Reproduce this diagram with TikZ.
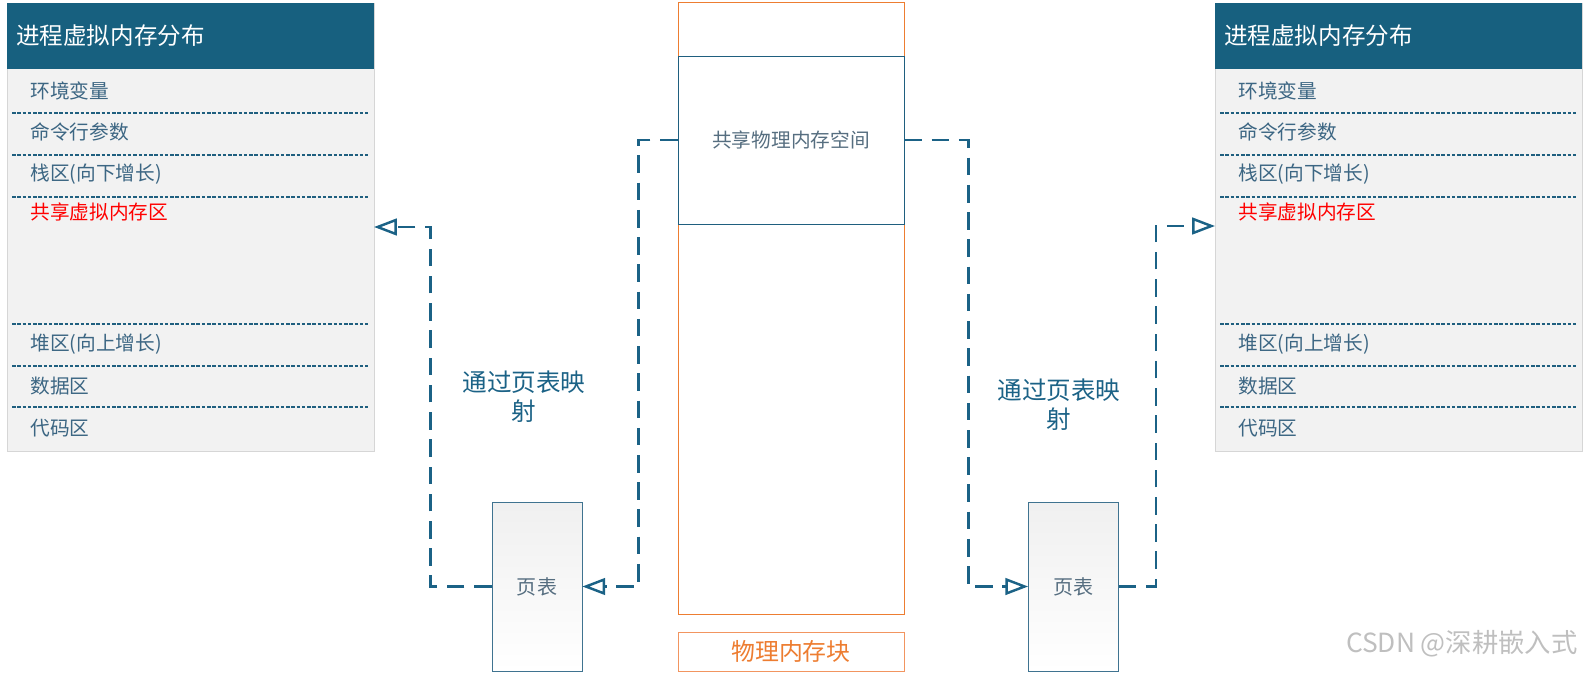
\documentclass[tikz,border=0pt]{standalone}
\usepackage{fontspec}
\setmainfont{Noto Sans CJK SC}
\usepackage{xcolor}
\usetikzlibrary{arrows.meta, positioning, calc}

\definecolor{headblue}{HTML}{17607F}
\definecolor{panelfill}{HTML}{F2F2F2}
\definecolor{panelline}{HTML}{D6D6D6}
\definecolor{sepblue}{HTML}{1F5F7F}
\definecolor{rowblue}{HTML}{3C6683}
\definecolor{sharered}{HTML}{FF0000}
\definecolor{physorange}{HTML}{ED7D31}
\definecolor{lblorange}{HTML}{F29560}
\definecolor{linkblue}{HTML}{1B6286}
\definecolor{ptline}{HTML}{3F7390}
\definecolor{softtext}{HTML}{566E80}

\begin{document}
\begin{tikzpicture}[x=0.02cm, y=-0.02cm,
    every node/.style={font=\fontsize{11.2}{13}\selectfont},
    panel/.style={draw=panelline, fill=panelfill, minimum width=7.34cm, minimum height=8.96cm, inner sep=0},
    headbar/.style={fill=headblue, minimum width=7.34cm, minimum height=1.32cm, inner sep=0},
    headtxt/.style={text=white, inner sep=0, font=\fontsize{13.4}{15}\selectfont},
    rowtxt/.style={text=rowblue, inner sep=0},
    sepline/.style={sepblue, line width=0.8pt, dash pattern=on 2pt off 1pt},
    maplink/.style={linkblue, line width=1.4pt, dash pattern=on 10pt off 5.5pt,
        -{Triangle[open, length=13pt, width=9.5pt, line width=1.4pt]}},
    ptbox/.style={draw=ptline, top color=black!6, bottom color=white, text=softtext,
        minimum width=1.8cm, minimum height=3.38cm, inner sep=0, font=\fontsize{11.4}{13}\selectfont},
    maptxt/.style={text=linkblue, align=center, inner sep=0, font=\fontsize{14}{16.5}\selectfont}]
    \useasboundingbox (0,0) rectangle (1585,676);
    % two process panels
    \foreach \nm/\ox in {l/7, r/1215}{
        \node[panel, anchor=north west] (\nm vm) at (\ox,3) {};
        \node[headbar, anchor=north west] (\nm head) at (\ox,3) {};
        \node[headtxt, anchor=west] (\nm title) at (\ox+9,36) {进程虚拟内存分布};
        \foreach \y in {113,155,197,324,366,407}
            \draw[sepline] (\ox+5,\y) -- (\ox+361,\y);
        \foreach \txt/\y in {环境变量/91, 命令行参数/132, 栈区(向下增长)/174, 堆区(向上增长)/344, 数据区/386, 代码区/428}
            \node[rowtxt, anchor=west] (\nm row\y) at (\ox+23,\y) {\txt};
        \node[rowtxt, text=sharered, anchor=west] (\nm share) at (\ox+23,212) {共享虚拟内存区};
    }
    \coordinate (lshare) at (374,227);
    \coordinate (rshare) at (1215,226);
    % physical memory
    \node[draw=physorange, minimum width=4.52cm, minimum height=12.24cm] (phys) at (791,308) {};
    \node[draw=sepblue, fill=white, text=softtext, minimum width=4.52cm, minimum height=3.36cm] (shm) at (791,140) {共享物理内存空间};
    \node[draw=lblorange, text=physorange, minimum width=4.52cm, minimum height=0.78cm,
        font=\fontsize{13.6}{15}\selectfont] (physlbl) at (791,651.5) {物理内存块};
    % page tables
    \node[ptbox] (lpt) at (537,586.5) {页表};
    \node[ptbox] (rpt) at (1073.5,586.5) {页表};
    \node[maptxt] (lmap) at (524,396.5) {通过页表映\\射};
    \node[maptxt] (rmap) at (1059,405) {通过页表映\\射};
    \draw[maplink] (lpt.west) -- ++(-61,0) |- (lshare);
    \draw[maplink] (shm.west) -- ++(-39,0) |- (lpt.east);
    \draw[maplink] (shm.east) -- ++(64,0) |- (rpt.west);
    \draw[maplink] (rpt.east) -- ++(37,0) |- (rshare);
    \node[text=black!25, anchor=east, inner sep=0, font=\fontsize{15}{17}\selectfont] (wmark) at (1578,644) {CSDN @深耕嵌入式};
\end{tikzpicture}
\end{document}
